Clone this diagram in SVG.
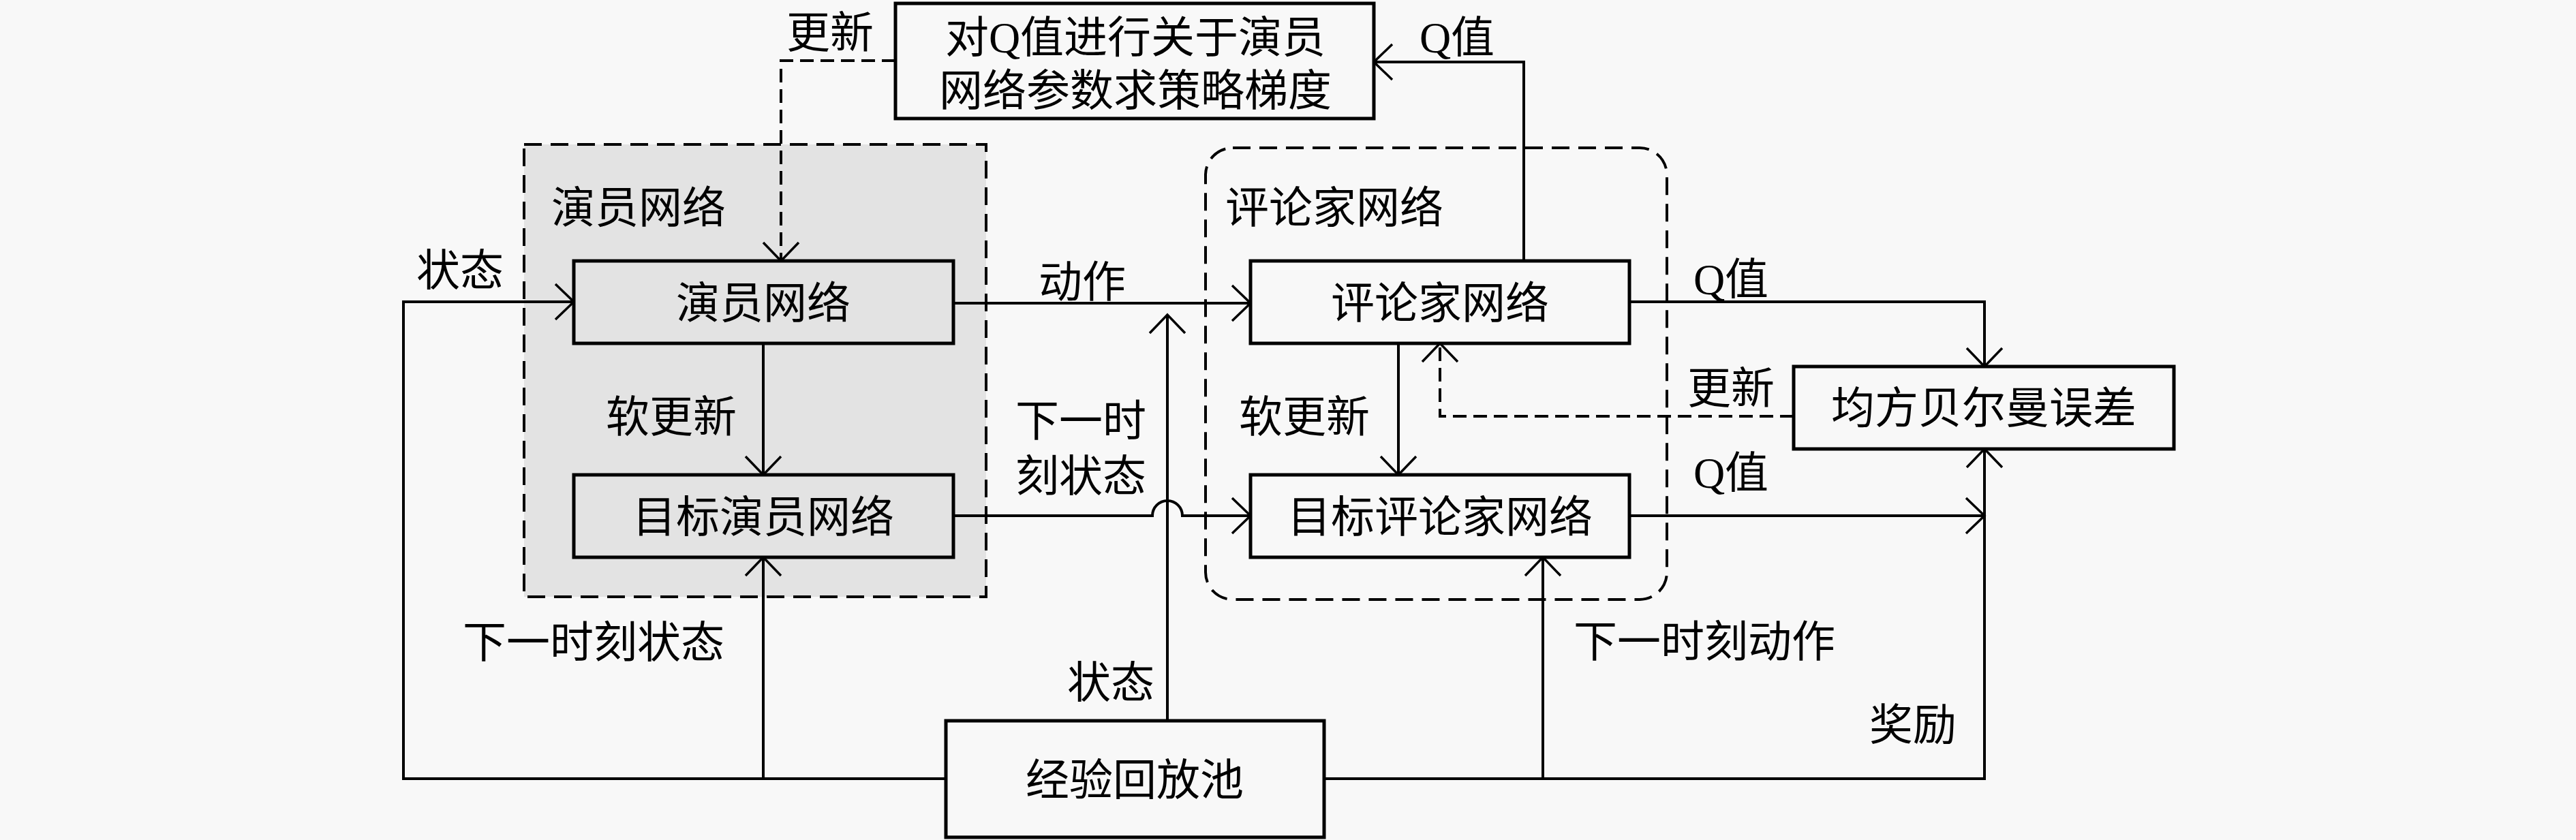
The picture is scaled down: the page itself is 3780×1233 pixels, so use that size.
<svg xmlns="http://www.w3.org/2000/svg" width="3780" height="1233" viewBox="0 0 3780 1233">
<style>
.t{font-family:"Liberation Serif","Noto Sans CJK SC",serif;font-size:64px;fill:#000;text-anchor:middle}
.box{fill:#f8f8f8;stroke:#000;stroke-width:5}
.abox{fill:#e3e3e3;stroke:#000;stroke-width:5}
.c{fill:none;stroke:#000;stroke-width:4}
.d{fill:none;stroke:#000;stroke-width:4;stroke-dasharray:20 10}
.reg{stroke:#000;stroke-width:4;stroke-dasharray:26 13}
</style>
<defs>
<marker id="ar" markerUnits="userSpaceOnUse" markerWidth="40" markerHeight="70" viewBox="-32 -35 40 70" refX="0" refY="0" orient="auto">
<path d="M-27,-26 L0,0 L-27,26" fill="none" stroke="#000" stroke-width="3.5"/>
</marker>
</defs>
<rect width="3780" height="1233" fill="#f8f8f8"/>
<g id="actor-region">
<rect class="reg" x="769" y="212" width="678" height="664" fill="#e3e3e3"/>
<text class="t" x="937" y="327">演员网络</text>
</g>
<g id="critic-region">
<rect class="reg" x="1769" y="217" width="677" height="663" rx="40" fill="none"/>
<text class="t" x="1958" y="327">评论家网络</text>
</g>
<g id="connectors">
<path class="c" d="M1388,1143 H592 V443 H842" marker-end="url(#ar)"/>
<path class="c" d="M1120,1143 V818" marker-end="url(#ar)"/>
<path class="c" d="M1943,1143 H2912 V659" marker-end="url(#ar)"/>
<path class="c" d="M2264,1143 V818" marker-end="url(#ar)"/>
<path class="c" d="M1713,1058 V462" marker-end="url(#ar)"/>
<path class="c" d="M1399,445 H1835" marker-end="url(#ar)"/>
<path class="c" d="M1120,504 V697" marker-end="url(#ar)"/>
<path class="c" d="M2052,504 V697" marker-end="url(#ar)"/>
<path class="c" d="M1399,757 H1691 A22,22 0 0 1 1735,757 H1835" marker-end="url(#ar)"/>
<path class="c" d="M2391,443 H2912 V538" marker-end="url(#ar)"/>
<path class="c" d="M2391,757 H2912" marker-end="url(#ar)"/>
<path class="c" d="M2236,383 V91 H2016" marker-end="url(#ar)"/>
<path class="d" d="M1314,89 H1146 V383" marker-end="url(#ar)"/>
<path class="d" d="M2632,611 H2113 V504" marker-end="url(#ar)"/>
</g>
<g id="gradient">
<rect class="box" x="1314" y="5" width="702" height="169"/>
<text class="t" x="1666" y="77">对Q值进行关于演员</text>
<text class="t" x="1666" y="155">网络参数求策略梯度</text>
</g>
<g id="actor">
<rect class="abox" x="842" y="383" width="557" height="121"/>
<text class="t" x="1120" y="467">演员网络</text>
</g>
<g id="target-actor">
<rect class="abox" x="842" y="697" width="557" height="121"/>
<text class="t" x="1120" y="781">目标演员网络</text>
</g>
<g id="critic">
<rect class="box" x="1835" y="383" width="556" height="121"/>
<text class="t" x="2113" y="467">评论家网络</text>
</g>
<g id="target-critic">
<rect class="box" x="1835" y="697" width="556" height="121"/>
<text class="t" x="2113" y="781">目标评论家网络</text>
</g>
<g id="mse">
<rect class="box" x="2632" y="538" width="558" height="121"/>
<text class="t" x="2911" y="621">均方贝尔曼误差</text>
</g>
<g id="replay">
<rect class="box" x="1388" y="1058" width="555" height="171"/>
<text class="t" x="1665" y="1167">经验回放池</text>
</g>
<g id="labels">
<text class="t" x="1218" y="70">更新</text>
<text class="t" x="2138" y="77">Q值</text>
<text class="t" x="675" y="419">状态</text>
<text class="t" x="1588" y="436">动作</text>
<text class="t" x="2540" y="432">Q值</text>
<text class="t" x="985" y="634">软更新</text>
<text class="t" x="1586" y="640">下一时</text>
<text class="t" x="1586" y="721">刻状态</text>
<text class="t" x="1914" y="634">软更新</text>
<text class="t" x="2540" y="592">更新</text>
<text class="t" x="2540" y="716">Q值</text>
<text class="t" x="871" y="965">下一时刻状态</text>
<text class="t" x="1630" y="1024">状态</text>
<text class="t" x="2501" y="964">下一时刻动作</text>
<text class="t" x="2807" y="1086">奖励</text>
</g>
</svg>
